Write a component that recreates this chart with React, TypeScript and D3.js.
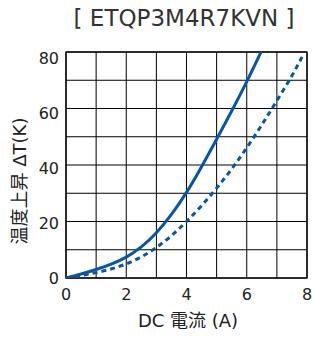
import * as d3 from 'd3';
import React from 'react';

// temperature rise ΔT(K) vs DC current (A)
const solidX = [0, 0.5, 1, 1.5, 2, 2.5, 3, 3.5, 4, 4.5, 5, 5.5, 6, 6.5];
const solidY = [0, 1.4, 3.0, 4.9, 7.4, 11.0, 16.0, 22.5, 30.3, 39.4, 49.1, 59.1, 69.5, 80.6];
const dashX = [0, 0.5, 1, 1.5, 2, 2.5, 3, 3.5, 4, 4.5, 5, 5.5, 6, 6.5, 7, 7.5, 7.88];
const dashY = [0, 0.9, 1.9, 3.2, 5.0, 7.5, 10.8, 15.0, 20.0, 25.6, 31.8, 38.6, 46.1, 54.2, 62.8, 71.6, 79.2];

const xTicks = [0, 2, 4, 6, 8];
const yTicks = [0, 20, 40, 60, 80];
const xGrid = [0, 1, 2, 3, 4, 5, 6, 7, 8];
const yGrid = [0, 10, 20, 30, 40, 50, 60, 70, 80];

const W = 314;
const H = 337;
const left = 66;
const right = 307;
const top = 52;
const bottom = 278;
const blue = '#0656a8';
const font = '"DejaVu Sans", "Noto Sans CJK JP", sans-serif';

export default function App() {
  const x = d3.scaleLinear().domain([0, 8]).range([left, right]);
  const y = d3.scaleLinear().domain([0, 80]).range([bottom, top]);
  // labels sit slightly off the grid in the original
  const yLab = d3.scaleLinear().domain([0, 80]).range([278, 58]);

  const line = d3
    .line<number>()
    .x((d) => x(d))
    .curve(d3.curveNatural);

  const solidPath = line.y((d, i) => y(solidY[i]))(solidX);
  const dashPath = line.y((d, i) => y(dashY[i]))(dashX);

  return (
    <svg
      width={W}
      height={H}
      style={{ position: 'absolute', left: 0, top: 0, background: '#fff' }}
      fontFamily={font}
    >
      <defs>
        <clipPath id="plot">
          <rect x={left} y={top} width={right - left} height={bottom - top} />
        </clipPath>
      </defs>
      <text x={184} y={26} textAnchor="middle" fontSize={23} fill="#333">
        [ ETQP3M4R7KVN ]
      </text>
      {xGrid.map((v) => (
        <line key={'gx' + v} x1={x(v)} x2={x(v)} y1={top} y2={bottom} stroke="#000" strokeWidth={1} />
      ))}
      {yGrid.map((v) => (
        <line key={'gy' + v} x1={left} x2={right} y1={y(v)} y2={y(v)} stroke="#000" strokeWidth={1} />
      ))}
      <rect x={left} y={top} width={right - left} height={bottom - top} fill="none" stroke="#000" strokeWidth={1.3} />
      <g clipPath="url(#plot)">
        <path d={solidPath} fill="none" stroke={blue} strokeWidth={3} />
        <path d={dashPath} fill="none" stroke={blue} strokeWidth={3} strokeDasharray="5,4" />
      </g>
      {xTicks.map((v) => (
        <text key={'xt' + v} x={x(v)} y={300} textAnchor="middle" fontSize={16} fill="#222">
          {v}
        </text>
      ))}
      {yTicks.map((v) => (
        <text key={'yt' + v} x={59} y={yLab(v)} dy="0.36em" textAnchor="end" fontSize={16} fill="#222">
          {v}
        </text>
      ))}
      <text x={188} y={327} textAnchor="middle" fontSize={18} fill="#222">
        DC 電流 (A)
      </text>
      <text
        transform={`translate(26,181) rotate(-90)`}
        textAnchor="middle"
        fontSize={18}
        fill="#222"
      >
        温度上昇 ΔT(K)
      </text>
    </svg>
  );
}
